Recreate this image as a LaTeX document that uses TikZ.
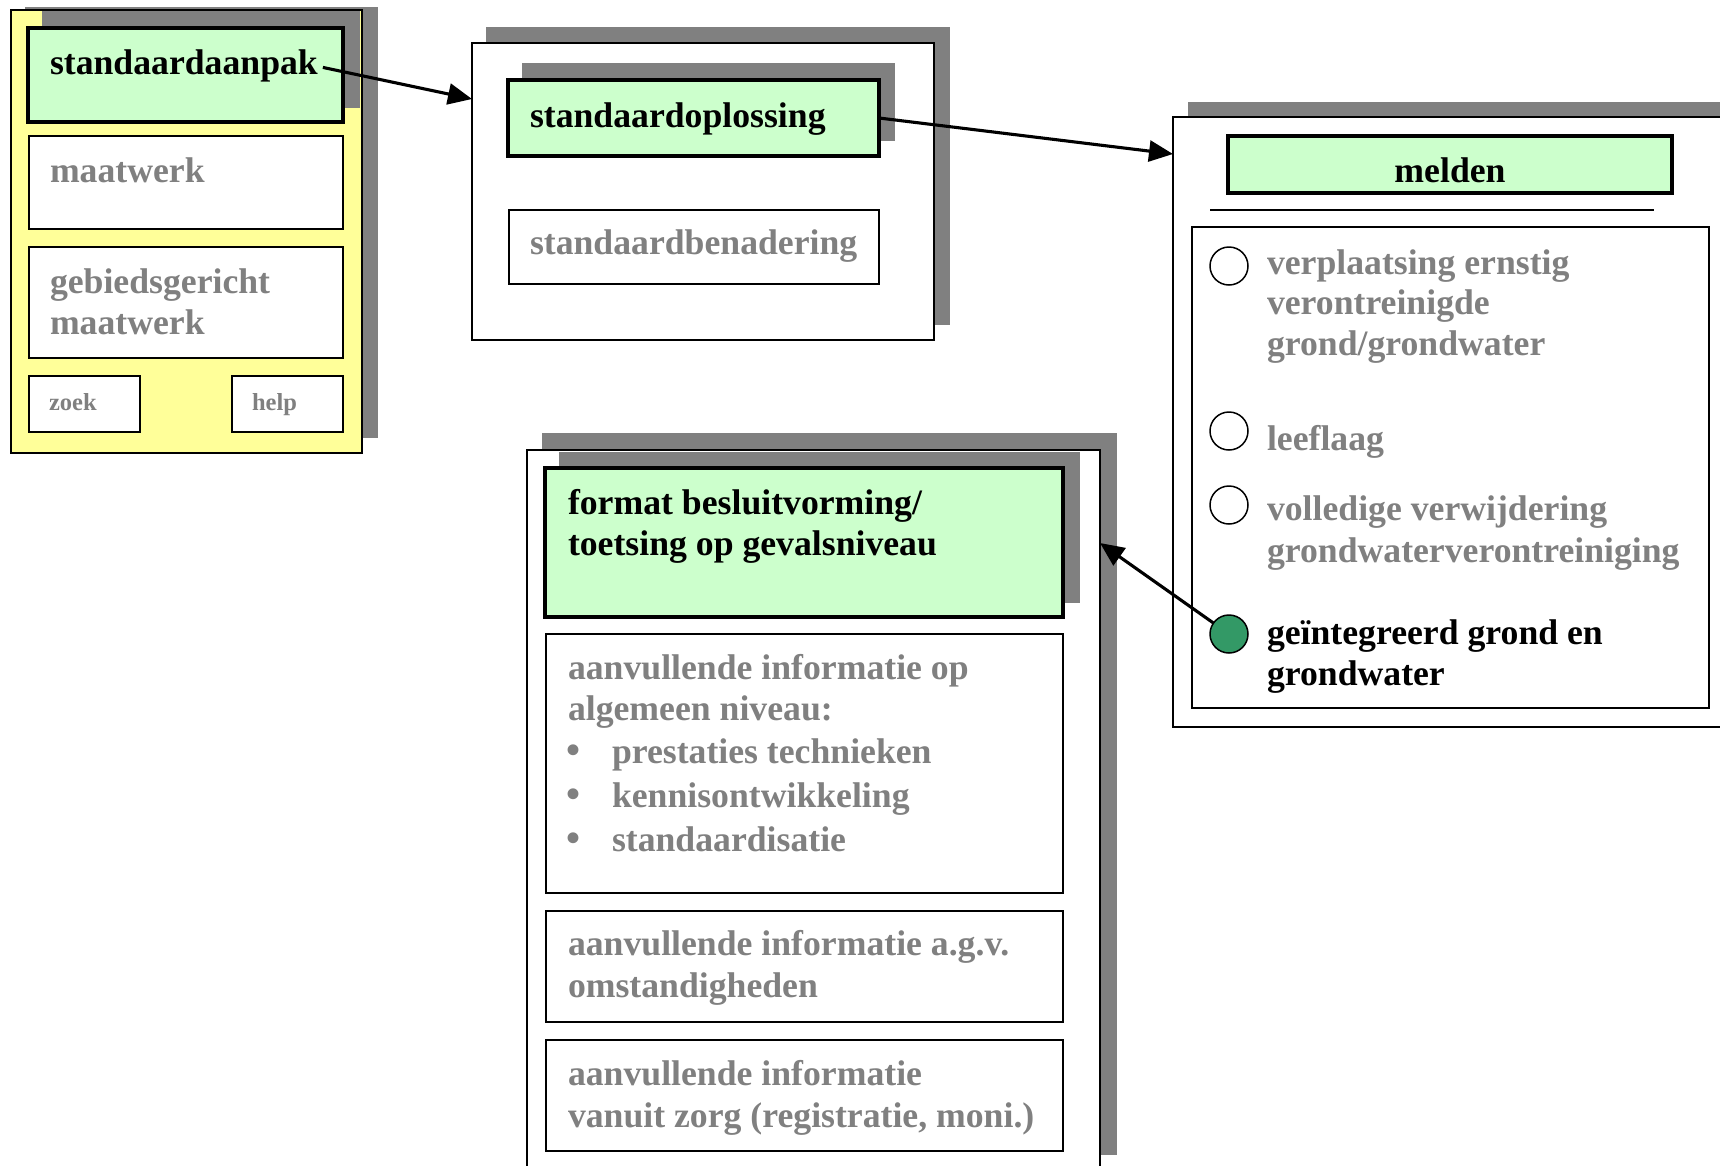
\documentclass[tikz,border=0pt]{standalone}
\usepackage{fontspec}
\setmainfont{Liberation Serif}
\usetikzlibrary{arrows.meta}
\definecolor{shd}{HTML}{808080}
\definecolor{txg}{HTML}{808080}
\definecolor{lgreen}{HTML}{CCFFCC}
\definecolor{lyellow}{HTML}{FFFF99}
\definecolor{dgreen}{HTML}{339966}
\tikzset{
  every node/.style={inner sep=0pt, outer sep=0pt},
  txt/.style={anchor=base west, yshift=-2pt, font=\fontsize{35.7}{41}\selectfont\bfseries},
  gtxt/.style={txt, text=txg},
  stxt/.style={anchor=base west, yshift=-1pt, font=\fontsize{24.5}{28}\selectfont\bfseries, text=txg},
  shadowbox/.style={fill=shd, draw=none},
  panelbox/.style={fill=white, draw=black, line width=1.5pt},
  yellowbox/.style={fill=lyellow, draw=black, line width=1.5pt},
  greenbox/.style={fill=lgreen, draw=black, line width=3.3pt},
  itembox/.style={fill=white, draw=black, line width=1.5pt},
  radio/.style={circle, draw=black, line width=1.5pt, fill=white, minimum size=38pt},
  radioon/.style={radio, fill=dgreen},
  arr/.style={line width=3.1pt, -{Triangle[length=24pt,width=21pt]}},
  bullet/.style={anchor=base, yshift=-2pt, font=\fontsize{40}{41}\selectfont\bfseries, text=txg}
}
\newcommand{\mybox}[6]{\node[#6, anchor=north west, minimum width={#4pt-#2pt}, minimum height={#5pt-#3pt}] (#1) at (#2,#3) {};}
\begin{document}
\begin{tikzpicture}[x=1pt,y=-1pt]
\useasboundingbox (0,0) rectangle (1720,1165);
\clip (0,0) rectangle (1720,1165);
\fill[white] (0,0) rectangle (1720,1165);

% ---------- left panel ----------
\mybox{lsh}{25}{7}{378}{438}{shadowbox}
\mybox{lpan}{11}{10}{362}{453}{yellowbox}
\mybox{lgsh}{42}{11}{360}{108}{shadowbox}
\mybox{lg}{28}{28}{343}{122}{greenbox}
\node[txt] (t1) at (50,72) {standaardaanpak};
\mybox{lb1}{29}{136}{343}{229}{itembox}
\node[gtxt] (t2) at (50,180) {maatwerk};
\mybox{lb2}{29}{247}{343}{358}{itembox}
\node[gtxt] (t3a) at (50,291) {gebiedsgericht};
\node[gtxt] (t3b) at (50,332) {maatwerk};
\mybox{lzoek}{29}{376}{140}{432}{itembox}
\node[stxt] (tz) at (49,409) {zoek};
\mybox{lhelp}{232}{376}{343}{432}{itembox}
\node[stxt] (th) at (252,409) {help};

% ---------- middle top panel ----------
\mybox{msh}{486}{27}{950}{325}{shadowbox}
\mybox{mpan}{472}{43}{934}{340}{panelbox}
\mybox{mgsh}{522}{63}{895}{141}{shadowbox}
\mybox{mg}{508}{80}{879}{156}{greenbox}
\node[txt] (t4) at (530,125) {standaardoplossing};
\mybox{mb1}{509}{210}{879}{284}{itembox}
\node[gtxt] (t5) at (530,252) {standaardbenadering};

% ---------- melden panel ----------
\mybox{rsh}{1188}{102}{1760}{711}{shadowbox}
\mybox{rpan}{1173}{117}{1770}{727}{panelbox}
\mybox{rg}{1228}{136}{1672}{193}{greenbox}
\node[txt, anchor=base] (t6) at (1450,180) {melden};
\coordinate (ls) at (1210,210);
\coordinate (le) at (1654,210);
\draw[line width=1.5pt] (ls) -- (le);
\mybox{rin}{1192}{227}{1709}{708}{itembox}
\node[radio] (c1) at (1229,266) {};
\node[gtxt] (r1a) at (1267,272) {verplaatsing ernstig};
\node[gtxt] (r1b) at (1267,312) {verontreinigde};
\node[gtxt] (r1c) at (1267,353) {grond/grondwater};
\node[radio] (c2) at (1229,431) {};
\node[gtxt] (r2) at (1267,448) {leeflaag};
\node[radio] (c3) at (1229,505) {};
\node[gtxt] (r3a) at (1267,518) {volledige verwijdering};
\node[gtxt] (r3b) at (1267,560) {grondwaterverontreiniging};
\node[radioon] (c4) at (1229,634) {};
\node[txt] (r4a) at (1267,642) {geïntegreerd grond en};
\node[txt] (r4b) at (1267,683) {grondwater};

% ---------- bottom panel ----------
\mybox{bsh}{542}{433}{1117}{1155}{shadowbox}
\mybox{bpan}{527}{450}{1100}{1200}{panelbox}
\mybox{bgsh}{559}{452}{1080}{603}{shadowbox}
\mybox{bg}{545}{468}{1063}{617}{greenbox}
\node[txt] (b1a) at (568,512) {format besluitvorming/};
\node[txt] (b1b) at (568,553) {toetsing op gevalsniveau};
\mybox{bb2}{546}{634}{1063}{893}{itembox}
\node[gtxt] (b2a) at (568,677) {aanvullende informatie op};
\node[gtxt] (b2b) at (568,718) {algemeen niveau:};
\node[bullet] (d1) at (573,761) {•};
\node[gtxt] (b2c) at (612,761) {prestaties technieken};
\node[bullet] (d2) at (573,805) {•};
\node[gtxt] (b2d) at (612,805) {kennisontwikkeling};
\node[bullet] (d3) at (573,849) {•};
\node[gtxt] (b2e) at (612,849) {standaardisatie};
\mybox{bb3}{546}{911}{1063}{1022}{itembox}
\node[gtxt] (b3a) at (568,953) {aanvullende informatie a.g.v.};
\node[gtxt] (b3b) at (568,995) {omstandigheden};
\mybox{bb4}{546}{1040}{1063}{1151}{itembox}
\node[gtxt] (b4a) at (568,1083) {aanvullende informatie};
\node[gtxt] (b4b) at (568,1125) {vanuit zorg (registratie, moni.)};

% ---------- connectors ----------
\coordinate (tipA) at (472,99);
\coordinate (tipM) at (1173,154);
\coordinate (tipB) at (1100,543);
\draw[arr] ([xshift=5pt,yshift=-2pt]t1.east) -- (tipA);
\draw[arr] (mg.east) -- (tipM);
\draw[arr] (c4) -- (tipB);
\end{tikzpicture}
\end{document}
